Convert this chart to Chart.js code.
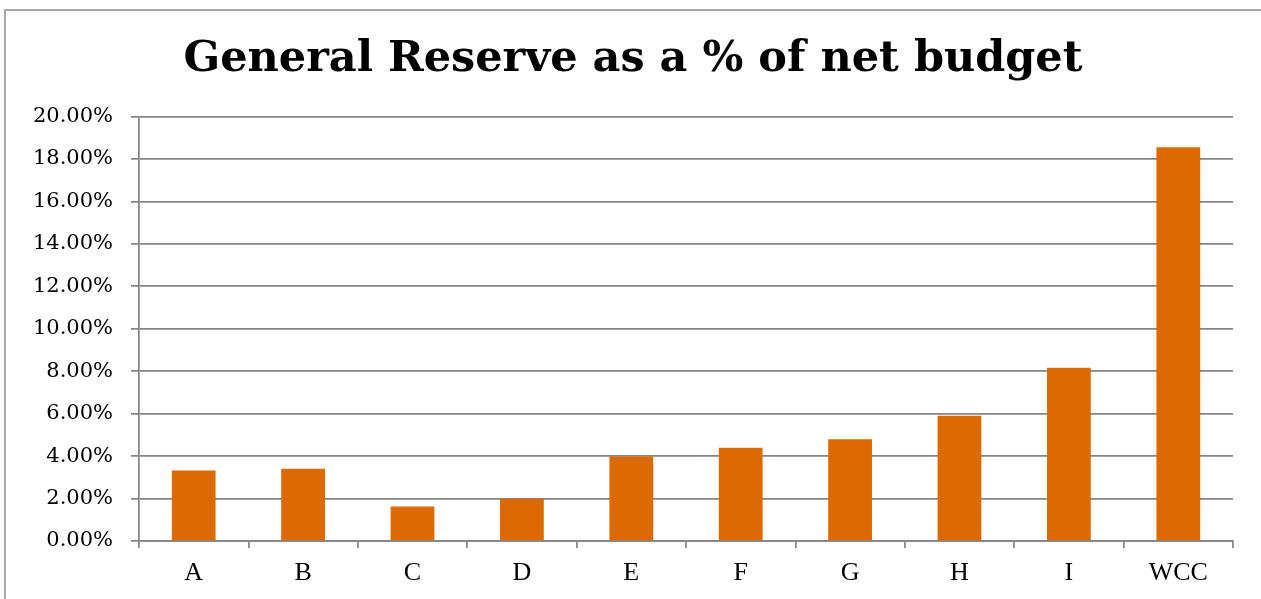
<!DOCTYPE html>
<html>
<head>
<meta charset="utf-8">
<title>General Reserve as a % of net budget</title>
<script src="https://cdn.jsdelivr.net/npm/chart.js@4.4.1/dist/chart.umd.min.js"></script>
<style>
  html, body { margin: 0; padding: 0; background: #ffffff; overflow: hidden; }
  #wrap { position: relative; width: 1261px; height: 599px; }
  #frame {
    position: absolute; left: 4px; top: 9px; right: -2px; bottom: -2px;
    border-top: 2px solid #a9a9a9; border-left: 2px solid #a9a9a9;
    pointer-events: none;
  }
  canvas { position: absolute; left: 0; top: 0; }
</style>
</head>
<body>
<div id="wrap">
  <canvas id="chart" width="1261" height="599"></canvas>
  <div id="frame"></div>
</div>
<script>
// Authorities compared
const categories = ['A', 'B', 'C', 'D', 'E', 'F', 'G', 'H', 'I', 'WCC'];

// General reserve as a share of net budget (fraction)
const reserveShare = [0.0332, 0.0341, 0.0162, 0.0199, 0.0398, 0.0439, 0.0479, 0.0590, 0.0816, 0.1855];

// Y axis tick labels, bottom to top
const yTickLabels = ['0.00%', '2.00%', '4.00%', '6.00%', '8.00%', '10.00%',
                     '12.00%', '14.00%', '16.00%', '18.00%', '20.00%'];

const chartTitle = 'General Reserve as a % of net budget';

const gridGrey = '#858585';
const barOrange = '#dd6a00';

new Chart(document.getElementById('chart'), {
  type: 'bar',
  data: {
    labels: categories,
    datasets: [{
      data: reserveShare,
      backgroundColor: barOrange,
      borderWidth: 0,
      barPercentage: 0.5,
      categoryPercentage: 0.8
    }]
  },
  options: {
    responsive: false,
    animation: false,
    layout: { padding: { left: 33, right: 28, top: 0, bottom: 0 } },
    plugins: {
      legend: { display: false },
      tooltip: { enabled: false },
      title: {
        display: true,
        text: chartTitle,
        color: '#000000',
        font: { family: '"DejaVu Serif", serif', size: 43, weight: 'bold', lineHeight: 1.2 },
        padding: { top: 34, bottom: 31 }
      }
    },
    scales: {
      x: {
        type: 'category',
        offset: true,
        grid: {
          display: true,
          offset: true,
          drawOnChartArea: false,
          drawTicks: true,
          tickLength: 7,
          color: gridGrey,
          lineWidth: 1.75
        },
        border: { display: true, color: gridGrey, width: 1.75 },
        ticks: {
          color: '#000000',
          padding: 10,
          font: { family: '"Liberation Serif", serif', size: 26, lineHeight: 1.2 }
        },
        afterFit: (scale) => { scale.height = 58; }
      },
      y: {
        min: 0,
        max: 0.2,
        ticks: {
          stepSize: 0.02,
          color: '#000000',
          padding: 18,
          font: { family: '"DejaVu Serif", serif', size: 21, lineHeight: 1.2 },
          callback: (value, index) => yTickLabels[index]
        },
        grid: {
          color: gridGrey,
          lineWidth: 1.75,
          drawTicks: true,
          tickLength: 8
        },
        border: { display: true, color: gridGrey, width: 1.75 },
        afterFit: (scale) => { scale.width = 106; }
      }
    }
  }
});
</script>
</body>
</html>
